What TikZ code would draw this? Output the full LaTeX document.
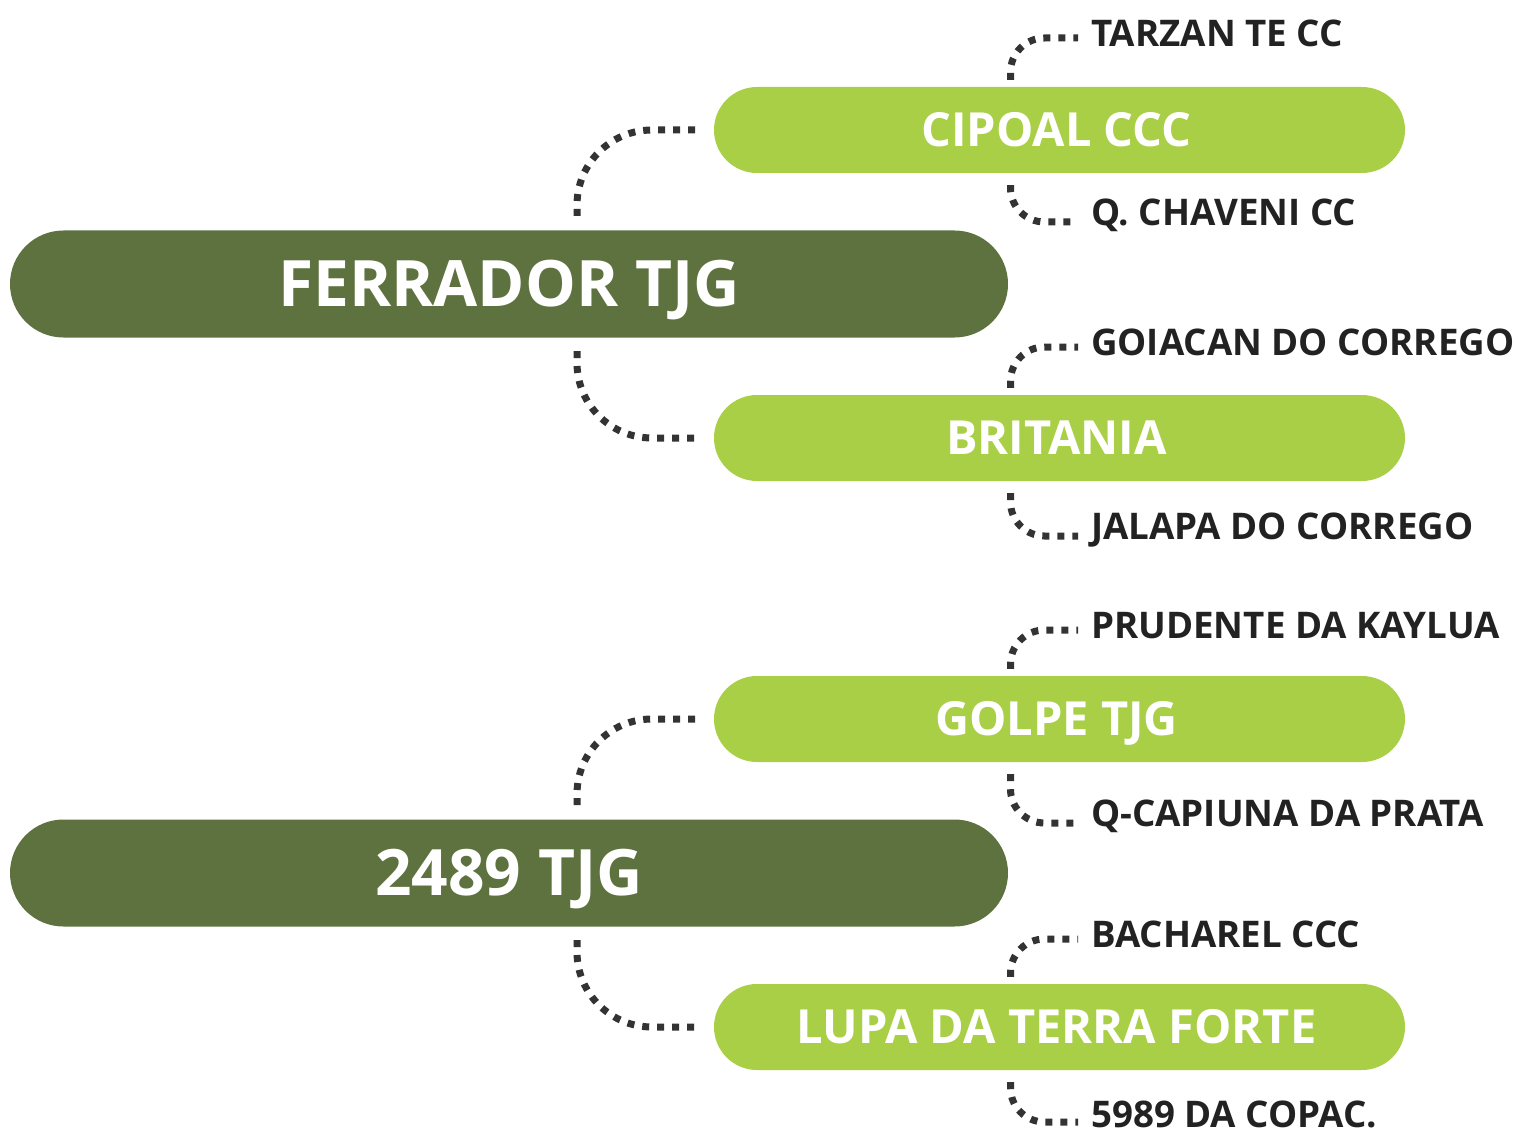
\documentclass[tikz,border=0pt]{standalone}
\usepackage{fontspec}
\setmainfont{Open Sans}
\definecolor{darkg}{HTML}{5E7240}
\definecolor{lightg}{HTML}{A9CF46}
\definecolor{dotc}{HTML}{333333}
\definecolor{labc}{HTML}{222222}
\begin{document}
\begin{tikzpicture}[x=1pt,y=-1pt,
  mainpill/.style={fill=darkg, rounded corners=53.5pt, minimum width=998pt, minimum height=107pt, inner sep=0pt, text=white, text height=45.7pt, text depth=0pt, font=\fontsize{64}{64}\selectfont\bfseries},
  subpill/.style={fill=lightg, rounded corners=43pt, minimum width=691pt, minimum height=86pt, inner sep=0pt},
  subtext/.style={inner sep=0pt, text=white, text height=33.6pt, text depth=0pt, font=\fontsize{47}{47}\selectfont\bfseries},
  leaf/.style={anchor=west, inner sep=0pt, text=labc, text height=26.2pt, text depth=0pt, font=\fontsize{36.7}{36.7}\selectfont\bfseries},
  dotline/.style={draw=dotc, line width=7pt, dash pattern=on 7pt off 8pt},
  bigconn/.style={dotline, rounded corners=75pt},
  smallconn/.style={dotline, rounded corners=34pt}
]
\useasboundingbox (0,0) rectangle (1516,1134);

% main pills
\node[mainpill] (m1) at (509,284) {FERRADOR TJG};
\node[mainpill] (m2) at (509,873) {2489 TJG};

% sub pills
\node[subpill] (s1) at (1059.5,130) {};
\node[subpill] (s2) at (1059.5,438) {};
\node[subpill] (s3) at (1059.5,719) {};
\node[subpill] (s4) at (1059.5,1027) {};
\node[subtext] (t1) at (1056.5,130) {CIPOAL CCC};
\node[subtext] (t2) at (1056.5,438) {BRITANIA};
\node[subtext] (t3) at (1056.5,719) {GOLPE TJG};
\node[subtext] (t4) at (1056.5,1027) {LUPA DA TERRA FORTE};

% leaves
\node[leaf] (l1) at (1091,33) {TARZAN TE CC};
\node[leaf] (l2) at (1091,212) {Q. CHAVENI CC};
\node[leaf] (l3) at (1091,342) {GOIACAN DO CORREGO};
\node[leaf] (l4) at (1091,526) {JALAPA DO CORREGO};
\node[leaf] (l5) at (1091,625) {PRUDENTE DA KAYLUA};
\node[leaf] (l6) at (1091,813) {Q-CAPIUNA DA PRATA};
\node[leaf] (l7) at (1091,934) {BACHAREL CCC};
\node[leaf] (l8) at (1091,1114) {5989 DA COPAC.};

% big connectors
\coordinate (c1a) at (577,216);
\coordinate (c1b) at (577,351);
\coordinate (c2a) at (577,805);
\coordinate (c2b) at (577,940);
\draw[bigconn] (c1a) |- ([xshift=-17pt]s1.west);
\draw[bigconn] (c1b) |- ([xshift=-17pt]s2.west);
\draw[bigconn] (c2a) |- ([xshift=-17pt]s3.west);
\draw[bigconn] (c2b) |- ([xshift=-17pt]s4.west);

% small connectors
\foreach \s/\t/\u in {s1/l1/l2, s2/l3/l4, s3/l5/l6}{
  \draw[smallconn] ([xshift=-49pt,yshift=7pt]\s.north) |- ([xshift=-13pt,yshift=-5pt]\t.west);
  \draw[smallconn] ([xshift=-49pt,yshift=-12pt]\s.south) |- ([xshift=-13pt,yshift=-10pt]\u.west);
}
\draw[smallconn] ([xshift=-49pt,yshift=7pt]s4.north) |- ([xshift=-13pt,yshift=-5pt]l7.west);
\draw[smallconn] ([xshift=-49pt,yshift=-12pt]s4.south) |- ([xshift=-13pt,yshift=-8pt]l8.west);
\end{tikzpicture}
\end{document}
